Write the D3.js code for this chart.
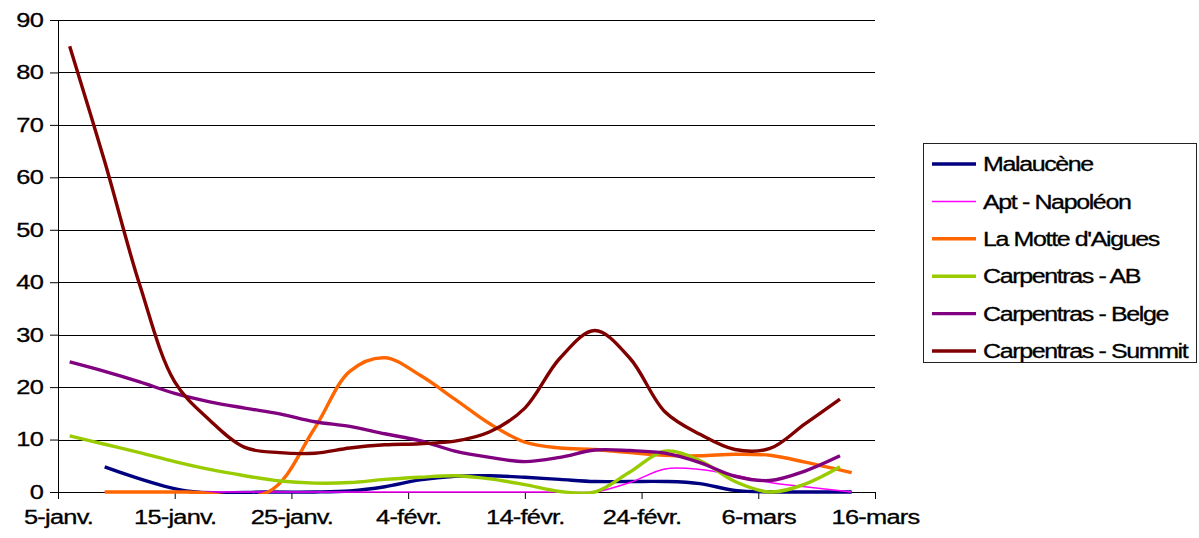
<!DOCTYPE html>
<html>
<head>
<meta charset="utf-8">
<script src="https://cdn.jsdelivr.net/npm/d3@7"></script>
<style>
  body { margin: 0; background: #fff; }
  svg { display: block; }
</style>
</head>
<body>
<script>
// tick labels on the date axis (every 10 days from 5-janv.)
const xLabels = ["5-janv.", "15-janv.", "25-janv.", "4-févr.", "14-févr.", "24-févr.", "6-mars", "16-mars"];
const xTickDays = [0, 10, 20, 30, 40, 50, 60, 70];
const yTicks = [0, 10, 20, 30, 40, 50, 60, 70, 80, 90];

// sampling days (days after 5-janv.)
const daysA = [1, 4, 7, 10, 13, 16, 19, 22, 25, 28, 31, 34, 37, 40, 43, 46, 49, 52, 55, 58, 61, 64, 67];
const daysB = [4, 11, 18, 22, 25, 28, 31, 34, 37, 40, 43, 46, 49, 52, 55, 58, 61, 64, 68];

// values on daysB
const malaucene = [4.8, 0.2, 0, 0, 0.2, 1, 2.3, 3, 3.1, 2.8, 2.4, 2, 2, 2, 1.6, 0.3, 0, 0, 0];
const aptNapoleon = [0, 0, 0, 0, 0, 0, 0, 0, 0, 0, 0, 0, 1.8, 4.4, 4.3, 3.2, 1.8, 1, 0];
const laMotte = [0, 0, 0, 12.2, 23, 25.6, 22.3, 17.7, 13, 9.5, 8.4, 8.1, 7.5, 7, 6.9, 7.2, 7, 5.7, 3.7];
// values on daysA
const carpAB = [10.7, 9.1, 7.5, 5.8, 4.3, 3.1, 2.1, 1.7, 1.8, 2.4, 2.8, 3.1, 2.5, 1.4, 0.1, 0, 3.8, 7.8, 6, 2, 0, 1.5, 4.8];
const carpBelge = [24.8, 23, 21, 18.8, 17.2, 16, 14.9, 13.4, 12.5, 11.1, 9.8, 7.8, 6.6, 5.8, 6.6, 8, 7.9, 7.4, 5.6, 3, 2.2, 4, 6.9];
const carpSummit = [85, 63, 39.5, 21, 13.7, 8.5, 7.5, 7.4, 8.4, 9, 9.2, 9.7, 11.5, 16, 25.5, 30.8, 25.5, 15.3, 11, 8.1, 8.3, 13, 17.7];

const series = [
  {name: "Malaucène", days: daysB, values: malaucene, color: "#000080", w: 3.4},
  {name: "Apt - Napoléon", days: daysB, values: aptNapoleon, color: "#ff00ff", w: 1.5},
  {name: "La Motte d'Aigues", days: daysB, values: laMotte, color: "#ff6600", w: 3.4},
  {name: "Carpentras - AB", days: daysA, values: carpAB, color: "#99cc00", w: 3.4},
  {name: "Carpentras - Belge", days: daysA, values: carpBelge, color: "#800080", w: 3.4},
  {name: "Carpentras - Summit", days: daysA, values: carpSummit, color: "#800000", w: 3.4}
];

const width = 1199, height = 538;
const sx = 1.27; // text is drawn a bit wide in the original

const x = d3.scaleLinear([0, 70], [58, 875]);
const y = d3.scaleLinear([0, 90], [492, 20]);

const svg = d3.select("body").append("svg")
  .attr("width", width)
  .attr("height", height)
  .attr("font-family", "'Liberation Sans', Arial, sans-serif");

svg.append("clipPath").attr("id", "plot")
  .append("rect")
  .attr("x", x(0)).attr("y", y(90) - 3)
  .attr("width", x(70) - x(0)).attr("height", y(0) - y(90) + 5);

// horizontal grid
svg.append("g")
  .selectAll("line")
  .data(yTicks.filter(d => d > 0))
  .join("line")
  .attr("x1", x(0)).attr("x2", x(70))
  .attr("y1", d => Math.round(y(d)) + 0.5).attr("y2", d => Math.round(y(d)) + 0.5)
  .attr("stroke", "#000").attr("stroke-width", 1);

// axes
const gy = svg.append("g")
  .attr("transform", `translate(${x(0)},0)`)
  .call(d3.axisLeft(y).tickValues(yTicks).tickSize(8).tickSizeOuter(0));
gy.select(".domain").attr("stroke", "#000");
gy.selectAll(".tick line").attr("stroke", "#000");
gy.selectAll(".tick text")
  .attr("x", -15 / sx)
  .attr("transform", `scale(${sx},1)`)
  .attr("font-size", 20)
  .attr("letter-spacing", "-0.6px")
  .attr("fill", "#000")
  .attr("stroke", "#000").attr("stroke-width", 0.3);

const gx = svg.append("g")
  .attr("transform", `translate(0,${y(0)})`)
  .call(d3.axisBottom(x).tickValues(xTickDays).tickFormat((d, i) => xLabels[i]).tickSize(7).tickSizeOuter(0));
gx.select(".domain").attr("stroke", "#000");
gx.selectAll(".tick line").attr("stroke", "#000");
gx.selectAll(".tick text")
  .attr("y", 18)
  .attr("transform", `scale(${sx},1)`)
  .attr("font-size", 20)
  .attr("letter-spacing", "-0.6px")
  .attr("fill", "#000")
  .attr("stroke", "#000").attr("stroke-width", 0.3);
gy.attr("font-family", null);
gx.attr("font-family", null);

// lines
const line = d3.line()
  .x(d => x(d[0]))
  .y(d => y(d[1]))
  .curve(d3.curveCatmullRom.alpha(0.5));

svg.append("g")
  .attr("clip-path", "url(#plot)")
  .selectAll("path")
  .data(series)
  .join("path")
  .attr("d", s => line(s.days.map((d, i) => [d, s.values[i]])))
  .attr("fill", "none")
  .attr("stroke", s => s.color)
  .attr("stroke-width", s => s.w)
  .attr("stroke-linejoin", "round")
  .attr("stroke-linecap", "butt");

// legend
const legend = svg.append("g");
legend.append("rect")
  .attr("x", 923.5).attr("y", 143.5)
  .attr("width", 273).attr("height", 219)
  .attr("fill", "#fff").attr("stroke", "#222");

const item = legend.selectAll("g.item")
  .data(series)
  .join("g")
  .attr("class", "item")
  .attr("transform", (d, i) => `translate(0,${164 + i * 37.4})`);

item.append("line")
  .attr("x1", 932).attr("x2", 976)
  .attr("stroke", d => d.color)
  .attr("stroke-width", d => d.w);

item.append("text")
  .attr("transform", `translate(983,0) scale(1.25,1)`)
  .attr("dy", "0.36em")
  .attr("font-size", 20)
  .attr("letter-spacing", "-1.1px")
  .attr("fill", "#000")
  .attr("stroke", "#000").attr("stroke-width", 0.3)
  .text(d => d.name);
</script>
</body>
</html>
